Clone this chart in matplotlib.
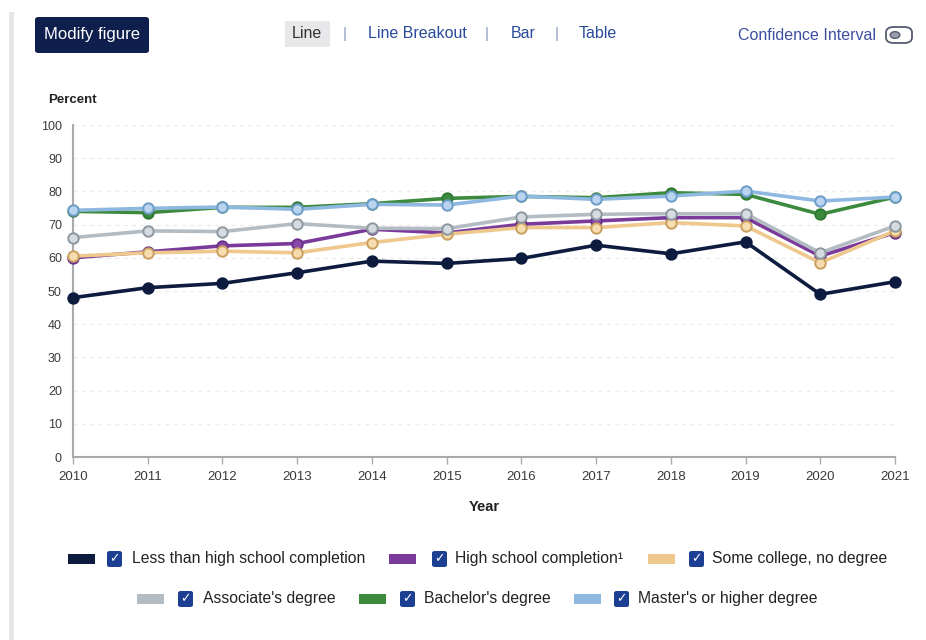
import matplotlib
matplotlib.use("Agg")
import matplotlib.pyplot as plt
from matplotlib.patches import FancyBboxPatch, Rectangle

plt.rcParams['font.family'] = ['Liberation Sans', 'DejaVu Sans']

years = [2010, 2011, 2012, 2013, 2014, 2015, 2016, 2017, 2018, 2019, 2020, 2021]

less_than_hs = [48.0, 51.0, 52.3, 55.5, 59.0, 58.3, 59.8, 63.8, 61.2, 64.8, 49.0, 52.8]
high_school = [60.0, 61.8, 63.6, 64.3, 68.6, 67.5, 70.1, 71.1, 72.1, 72.1, 60.5, 67.6]
some_college = [60.5, 61.5, 62.0, 61.5, 64.6, 67.1, 69.1, 69.1, 70.6, 69.6, 58.5, 68.1]
associates = [66.1, 68.1, 67.9, 70.3, 68.9, 68.8, 72.3, 73.1, 73.3, 73.3, 61.5, 69.6]
bachelors = [74.0, 73.6, 75.2, 75.2, 76.3, 77.9, 78.5, 78.1, 79.6, 79.1, 73.1, 78.3]
masters = [74.3, 74.9, 75.3, 74.6, 76.1, 75.9, 78.6, 77.6, 78.6, 80.1, 77.1, 78.3]

series_names = ["Less than high school completion", "High school completion\u00b9",
                "Some college, no degree", "Associate's degree",
                "Bachelor's degree", "Master's or higher degree"]
series_values = [less_than_hs, high_school, some_college, associates, bachelors, masters]
line_colors = ["#0d1b3e", "#7a3a9a", "#eec88c", "#b3bcc3", "#3b8a3e", "#8fb8e0"]
edge_colors = ["#0d1b3e", "#6a2f88", "#c9a060", "#8d979f", "#2f7a33", "#6d9cc8"]
face_colors = ["#0d1b3e", "#8a4aaa", "#f6dcae", "#d5dbe0", "#3b8a3e", "#b8d4ee"]

y_ticks = [0, 10, 20, 30, 40, 50, 60, 70, 80, 90, 100]

fig = plt.figure(figsize=(9.26, 6.4), dpi=100)
W, H = 926, 640

def fx(px):
    return px / W

def fy(py):
    return 1 - py / H

ax = fig.add_axes([fx(73), fy(457), fx(895) - fx(73), fy(125) - fy(457)])

for vals, lc, ec, fc in zip(series_values, line_colors, edge_colors, face_colors):
    ax.plot(years, vals, color=lc, lw=2.6, marker='o', ms=7.5,
            markerfacecolor=fc, markeredgecolor=ec, markeredgewidth=1.4,
            clip_on=False, zorder=3)

ax.set_xlim(2010, 2021)
ax.set_ylim(0, 100)
ax.set_xticks(years)
ax.set_xticklabels([str(y) for y in years], fontsize=9.5, color='#3a3a3a')
ax.set_yticks(y_ticks)
ax.set_yticklabels([str(v) for v in y_ticks], fontsize=9, color='#3a3a3a')
ax.tick_params(axis='x', length=5, width=1, color='#aaaaaa', pad=5)
ax.tick_params(axis='y', length=0, pad=8)
ax.yaxis.grid(True, color='#ececec', linestyle=(0, (3, 3)), lw=1)
ax.set_axisbelow(True)
for s in ['top', 'right']:
    ax.spines[s].set_visible(False)
for s in ['left', 'bottom']:
    ax.spines[s].set_color('#aaaaaa')
    ax.spines[s].set_linewidth(1.5)

fig.text(fx(48), fy(100), "Percent", fontsize=9.5, fontweight='bold',
         ha='left', va='center', color='#222222')
fig.text(fx(484), fy(507), "Year", fontsize=10.5, fontweight='bold',
         ha='center', va='center', color='#222222')

# page border strip on the left
fig.add_artist(Rectangle((fx(9), fy(640)), fx(5), fy(12) - fy(640),
                         transform=fig.transFigure, color='#e4e6e8', lw=0))

# top controls
fig.add_artist(FancyBboxPatch((fx(35), fy(53)), fx(114), fy(17) - fy(53),
                              boxstyle="round,pad=0,rounding_size=0.004",
                              transform=fig.transFigure, color='#0e1f4d', lw=0))
fig.text(fx(92), fy(35), "Modify figure", fontsize=12, color='white',
         ha='center', va='center')
fig.add_artist(Rectangle((fx(285), fy(47)), fx(45), fy(21) - fy(47),
                         transform=fig.transFigure, color='#e8e8ea', lw=0))
fig.text(fx(307), fy(34), "Line", fontsize=11.5, color='#333333', ha='center', va='center')
for xp in [345, 487, 557]:
    fig.text(fx(xp), fy(34), "|", fontsize=11, color='#8899bb', ha='center', va='center')
fig.text(fx(417), fy(34), "Line Breakout", fontsize=11.5, color='#2a4a9a', ha='center', va='center')
fig.text(fx(523), fy(34), "Bar", fontsize=11.5, color='#2a4a9a', ha='center', va='center')
fig.text(fx(598), fy(34), "Table", fontsize=11.5, color='#2a4a9a', ha='center', va='center')
fig.text(fx(807), fy(35), "Confidence Interval", fontsize=11.5, color='#3f4fa0',
         ha='center', va='center')
fig.add_artist(FancyBboxPatch((fx(886), fy(43)), fx(26), fy(27) - fy(43),
                              boxstyle="round,pad=0,rounding_size=0.0085",
                              transform=fig.transFigure, facecolor='white',
                              edgecolor='#555b70', lw=1.3))
fig.add_artist(plt.Circle((fx(895), fy(35)), 0.0052, transform=fig.transFigure,
                          facecolor='#9a9fad', edgecolor='#555b70', lw=1.0))

# legend
legend_layout = [
    (68, 107, 132, 559), (389, 432, 455, 559), (648, 689, 712, 559),
    (137, 178, 203, 599), (359, 400, 424, 599), (574, 614, 638, 599),
]
for (sx, cx, tx, ly), name, lc in zip(legend_layout, series_names, line_colors):
    fig.add_artist(Rectangle((fx(sx), fy(ly + 5)), fx(27), fy(ly - 5) - fy(ly + 5),
                             transform=fig.transFigure, color=lc, lw=0))
    fig.add_artist(FancyBboxPatch((fx(cx), fy(ly + 8)), fx(15), fy(ly - 8) - fy(ly + 8),
                                  boxstyle="round,pad=0,rounding_size=0.003",
                                  transform=fig.transFigure, color='#1c3f94', lw=0))
    fig.text(fx(cx + 7.5), fy(ly), "\u2713", fontsize=9, color='white',
             ha='center', va='center', family='DejaVu Sans', fontweight='bold')
    fig.text(fx(tx), fy(ly), name, fontsize=11.3, color='#222222',
             ha='left', va='center')

fig.savefig("out.png", dpi=100, facecolor='white')
